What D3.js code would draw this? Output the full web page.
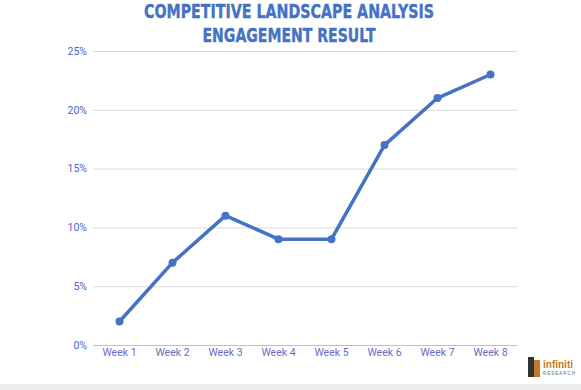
<!DOCTYPE html>
<html><head><meta charset="utf-8">
<script src="https://cdn.jsdelivr.net/npm/d3@7"></script>
<style>body{margin:0;background:#fff;}svg{display:block;}</style>
</head><body>
<svg id="c" width="581" height="390"></svg>
<script>
const categories = ["Week 1","Week 2","Week 3","Week 4","Week 5","Week 6","Week 7","Week 8"];
const values = [0.02,0.07,0.11,0.09,0.09,0.17,0.21,0.23];
const yTicks = [0,0.05,0.10,0.15,0.20,0.25];
const titleLines = ["COMPETITIVE LANDSCAPE ANALYSIS","ENGAGEMENT RESULT"];
const titleWidths = [290,173];

const svg = d3.select("#c");
const W=581,H=390;
const m={left:93,right:64,top:51,bottom:45};
const x = d3.scaleBand().domain(categories).range([m.left,W-m.right]);
const y = d3.scaleLinear().domain([0,0.25]).range([H-m.bottom,m.top]);

svg.append("rect").attr("x",0).attr("y",384).attr("width",W).attr("height",6).attr("fill","#eceef0");

// title
svg.selectAll("text.title").data(titleLines).enter().append("text")
 .attr("x",289).attr("y",(d,i)=>18+i*24)
 .attr("text-anchor","middle")
 .attr("textLength",(d,i)=>titleWidths[i]).attr("lengthAdjust","spacingAndGlyphs")
 .attr("font-family","'DejaVu Sans',sans-serif")
 .attr("font-weight","bold").attr("font-size",19)
 .attr("stroke","#4472c4").attr("stroke-width",0.4)
 .attr("fill","#4472c4").text(d=>d);

// grid
const gy = svg.append("g").attr("transform",`translate(${m.left},0)`)
 .call(d3.axisLeft(y).tickValues(yTicks).tickFormat(d3.format(".0%")).tickSize(-(W-m.left-m.right)).tickPadding(6));
gy.select(".domain").remove();
gy.selectAll(".tick line").attr("stroke","#d9d9d9").attr("stroke-width",1);
gy.selectAll(".tick text").attr("fill","#4f5fcf").attr("font-family","Roboto,'Liberation Sans',sans-serif").attr("font-size",10.5);

const gx = svg.append("g").attr("transform",`translate(0,${H-m.bottom})`)
 .call(d3.axisBottom(x).tickSize(0).tickPadding(4));
gx.select(".domain").attr("stroke","#bfbfbf");
gx.selectAll(".tick text").attr("fill","#6a6ac8").attr("font-family","Roboto,'Liberation Sans',sans-serif").attr("font-size",10.5);

const line = d3.line().x((d,i)=>x(categories[i])+x.bandwidth()/2).y(d=>y(d));
svg.append("path").datum(values).attr("d",line).attr("fill","none")
 .attr("stroke","#4472c4").attr("stroke-width",3.5).attr("stroke-linejoin","round");
svg.selectAll("circle.pt").data(values).enter().append("circle")
 .attr("cx",(d,i)=>x(categories[i])+x.bandwidth()/2).attr("cy",d=>y(d)).attr("r",4)
 .attr("fill","#4472c4");

// logo
const lg = svg.append("g").attr("transform","translate(528,357)");
lg.append("rect").attr("x",0).attr("y",0).attr("width",6).attr("height",20).attr("fill","#333");
lg.append("rect").attr("x",6).attr("y",3).attr("width",6).attr("height",17).attr("fill","#c07a2a");
lg.append("text").attr("x",15).attr("y",11).attr("font-family","'Liberation Sans',sans-serif").attr("font-weight","bold").attr("font-size",10).attr("fill","#c07a2a").text("infiniti");
lg.append("text").attr("x",15).attr("y",18).attr("font-family","'Liberation Sans',sans-serif").attr("font-size",4.5).attr("letter-spacing",1).attr("fill","#666").text("RESEARCH");
</script>
</body></html>
